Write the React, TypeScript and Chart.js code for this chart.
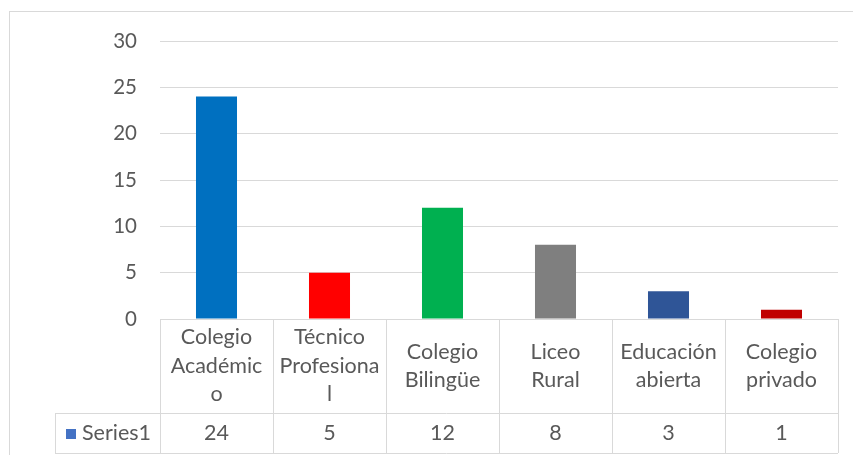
import React, { useEffect, useRef } from "react";
import { Chart, registerables } from "chart.js";

Chart.register(...registerables);

const categories: string[][] = [
  ["Colegio", "Académic", "o"],
  ["Técnico", "Profesiona", "l"],
  ["Colegio", "Bilingüe"],
  ["Liceo", "Rural"],
  ["Educación", "abierta"],
  ["Colegio", "privado"],
];
const seriesName = "Series1";
const values: number[] = [24, 5, 12, 8, 3, 1];
const barColors: string[] = ["#0070C0", "#FF0000", "#00B050", "#7F7F7F", "#2F5597", "#C00000"];
const legendColor = "#4472C4";
const yTicks = { min: 0, max: 30, step: 5 };

const FONT_FAMILY = "Lato, 'Open Sans', sans-serif";
const TICK_FONT_SIZE = 20.5;
const TABLE_FONT_SIZE = 21.5;
const TEXT_COLOR = "#595959";
const GRID_COLOR = "#d9d9d9";
const HEADER_H = 94;
const ROW_H = 40;
const LINE_H = 28.5;
const LEGEND_LEFT = 55;

const tablePlugin = {
  id: "dataTable",
  afterDraw(chart: any) {
    const ctx: CanvasRenderingContext2D = chart.ctx;
    const xs = chart.scales.x;
    const area = chart.chartArea;
    const n = categories.length;
    const left = area.left;
    const right = area.right;
    const top = Math.round(area.bottom);
    const colW = (right - left) / n;
    const headerBottom = top + HEADER_H;
    const bottom = headerBottom + ROW_H;
    const px = (v: number) => Math.round(v) + 0.5;
    const line = (x1: number, y1: number, x2: number, y2: number) => {
      ctx.beginPath();
      ctx.moveTo(x1, y1);
      ctx.lineTo(x2, y2);
      ctx.stroke();
    };
    ctx.save();
    ctx.strokeStyle = GRID_COLOR;
    ctx.lineWidth = 1;
    line(left, px(top), right, px(top));
    line(LEGEND_LEFT, px(headerBottom), right, px(headerBottom));
    line(LEGEND_LEFT, px(bottom), right, px(bottom));
    for (let i = 0; i <= n; i++) {
      const x = px(left + i * colW);
      line(x, top, x, bottom);
    }
    line(px(LEGEND_LEFT), headerBottom, px(LEGEND_LEFT), bottom);

    ctx.fillStyle = TEXT_COLOR;
    ctx.font = `${TABLE_FONT_SIZE}px ${FONT_FAMILY}`;
    ctx.textAlign = "center";
    ctx.textBaseline = "middle";
    const headerMid = (top + headerBottom) / 2;
    const rowMid = (headerBottom + bottom) / 2;
    categories.forEach((lines, i) => {
      const cx = xs.getPixelForValue(i);
      const startY = headerMid - ((lines.length - 1) * LINE_H) / 2;
      lines.forEach((t, j) => ctx.fillText(t, cx, startY + j * LINE_H));
      ctx.fillText(String(values[i]), cx, rowMid);
    });
    ctx.fillStyle = legendColor;
    ctx.fillRect(LEGEND_LEFT + 11, rowMid - 4, 10, 10);
    ctx.fillStyle = TEXT_COLOR;
    ctx.textAlign = "left";
    ctx.fillText(seriesName, LEGEND_LEFT + 27, rowMid);
    ctx.restore();
  },
};

export default function App() {
  const ref = useRef<HTMLCanvasElement | null>(null);
  useEffect(() => {
    if (!ref.current) return;
    const chart = new Chart(ref.current, {
      type: "bar",
      data: {
        labels: categories.map((c) => c.join(" ")),
        datasets: [
          {
            label: seriesName,
            data: values,
            backgroundColor: barColors,
            borderWidth: 0,
            barPercentage: 0.363,
            categoryPercentage: 1,
          },
        ],
      },
      options: {
        responsive: false,
        animation: false,
        layout: { padding: { left: 0, right: 15, top: 41, bottom: 136 } },
        plugins: { legend: { display: false }, tooltip: { enabled: false } },
        scales: {
          x: { display: false, offset: true },
          y: {
            min: yTicks.min,
            max: yTicks.max,
            afterFit: (s: any) => {
              s.width = 160;
            },
            ticks: {
              stepSize: yTicks.step,
              color: TEXT_COLOR,
              padding: 23,
              font: { family: FONT_FAMILY, size: TICK_FONT_SIZE },
            },
            grid: { color: GRID_COLOR, drawTicks: false, lineWidth: 1 },
            border: { display: false },
          },
        },
      },
      plugins: [tablePlugin],
    });
    return () => chart.destroy();
  }, []);
  return (
    <div style={{ position: "fixed", left: 0, top: 0, width: 853, height: 455, overflow: "hidden", background: "#fff" }}>
      <div
        style={{
          position: "absolute",
          left: 9,
          top: 11,
          width: 900,
          height: 500,
          border: "1px solid #d9d9d9",
          boxSizing: "border-box",
        }}
      />
      <canvas ref={ref} width={853} height={455} style={{ position: "absolute", left: 0, top: 0 }} />
    </div>
  );
}
